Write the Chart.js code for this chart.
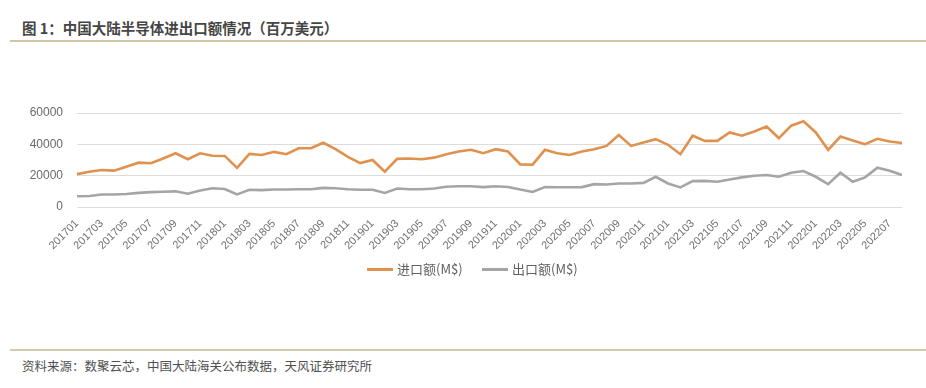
<!DOCTYPE html>
<html><head><meta charset="utf-8">
<script src="https://cdn.jsdelivr.net/npm/chart.js@4/dist/chart.umd.min.js"></script>
<style>
html,body{margin:0;padding:0;background:#fff;width:926px;height:388px;overflow:hidden;position:relative;font-family:"Noto Sans CJK SC","Noto Sans",sans-serif;}
#title{position:absolute;left:22px;top:17px;font-size:14.5px;font-weight:bold;color:#454545;white-space:nowrap;}
#rule1{position:absolute;left:10px;right:0;top:40px;height:2px;background:#cfc6a4;}
#rule2{position:absolute;left:10px;right:0;top:349px;height:2px;background:#d3cbab;}
#src{position:absolute;left:22px;top:356px;font-size:12.5px;color:#505050;white-space:nowrap;}
#wrap{position:absolute;left:0;top:96px;width:926px;height:165px;}
.lg{position:absolute;top:260px;font-size:13px;color:#606060;white-space:nowrap;line-height:18px;}
.lg i{display:inline-block;width:26px;height:3px;vertical-align:middle;margin-right:4px;position:relative;top:-1px;}
</style></head>
<body>
<div id="title">图 1：中国大陆半导体进出口额情况（百万美元）</div>
<div id="rule1"></div>
<div id="wrap"><canvas id="c"></canvas></div>
<div class="lg" id="lg0" style="left:367px"><i style="background:#E0914E"></i><span></span></div>
<div class="lg" id="lg1" style="left:482px"><i style="background:#A5A5A5"></i><span></span></div>
<div id="rule2"></div>
<div id="src">资料来源：数聚云芯，中国大陆海关公布数据，天风证券研究所</div>
<script>
const months = [];
for (let y = 2017; y <= 2022; y++) {
  for (let m = 1; m <= 12; m++) {
    if (y === 2022 && m > 8) break;
    months.push(String(y) + (m < 10 ? '0' + m : String(m)));
  }
}
const seriesNames = ['进口额(M$)', '出口额(M$)'];
const importValues = [
  21000, 22500, 23600, 23200, 25700, 28300, 27900, 31000, 34300, 30500, 34300, 32700,
  32600, 25000, 33900, 33200, 35200, 33700, 37500, 37500, 41000, 37000, 32000, 28000,
  30000, 22500, 30700, 31000, 30500, 31500, 33700, 35400, 36500, 34300, 36900, 35400,
  27200, 27000, 36500, 34300, 33200, 35400, 36900, 39000, 46000, 39000, 41200, 43300,
  39700, 33700, 45500, 42200, 42200, 47600, 45500, 48200, 51400, 44000, 51900, 54700,
  47600, 36500, 45000, 42400, 40100, 43500, 41800, 40800
];
const exportValues = [
  6900, 7000, 8000, 8000, 8300, 9000, 9500, 9700, 10000, 8500, 10500, 12000,
  11500, 8000, 11000, 10800, 11200, 11200, 11300, 11300, 12200, 12000, 11300, 11000,
  11000, 9000, 11800, 11300, 11300, 11800, 12900, 13200, 13200, 12700, 13200, 12800,
  11200, 9600, 12700, 12600, 12600, 12700, 14600, 14400, 15000, 15000, 15400, 19300,
  15000, 12500, 16500, 16700, 16100, 17600, 18900, 19900, 20400, 19300, 21900, 23000,
  19300, 14600, 21900, 16100, 18900, 25100, 23200, 20400
];
const yTicks = [0, 20000, 40000, 60000];
const colors = ['#E0914E', '#A5A5A5'];

document.querySelector('#lg0 span').textContent = seriesNames[0];
document.querySelector('#lg1 span').textContent = seriesNames[1];

const chart = new Chart(document.getElementById('c'), {
  type: 'line',
  data: {
    labels: months,
    datasets: [
      {label: seriesNames[0], data: importValues, borderColor: colors[0], backgroundColor: colors[0],
       borderWidth: 2.6, pointRadius: 0, tension: 0, fill: false},
      {label: seriesNames[1], data: exportValues, borderColor: colors[1], backgroundColor: colors[1],
       borderWidth: 2.6, pointRadius: 0, tension: 0, fill: false}
    ]
  },
  options: {
    responsive: true, maintainAspectRatio: false, animation: false,
    layout: {padding: {left: 0, right: 24, top: 17, bottom: 0}},
    plugins: {
      tooltip: {enabled: false},
      legend: {display: false}
    },
    scales: {
      x: {
        grid: {display: false},
        border: {display: false},
        afterFit: function(s) { s.height = 54; },
        ticks: {
          autoSkip: false, minRotation: 45, maxRotation: 45, padding: 2,
          color: '#707070', font: {family: '"Liberation Sans", Arial, sans-serif', size: 11},
          callback: function(v, i) { return i % 2 === 0 ? months[i] : ''; }
        }
      },
      y: {
        min: 0, max: 60000,
        afterFit: function(s) { s.width = 77; s.paddingTop = 0; s.paddingBottom = 0; },
        afterBuildTicks: function(s) { s.ticks = yTicks.map(v => ({value: v})); },
        grid: {color: '#dcdcdc', lineWidth: 1, drawTicks: false},
        border: {display: false},
        ticks: {padding: 14, color: '#6a6a6a', font: {family: '"Liberation Sans", Arial, sans-serif', size: 12},
          callback: function(v) { return String(v); }}
      }
    }
  }
});
</script>
</body></html>
